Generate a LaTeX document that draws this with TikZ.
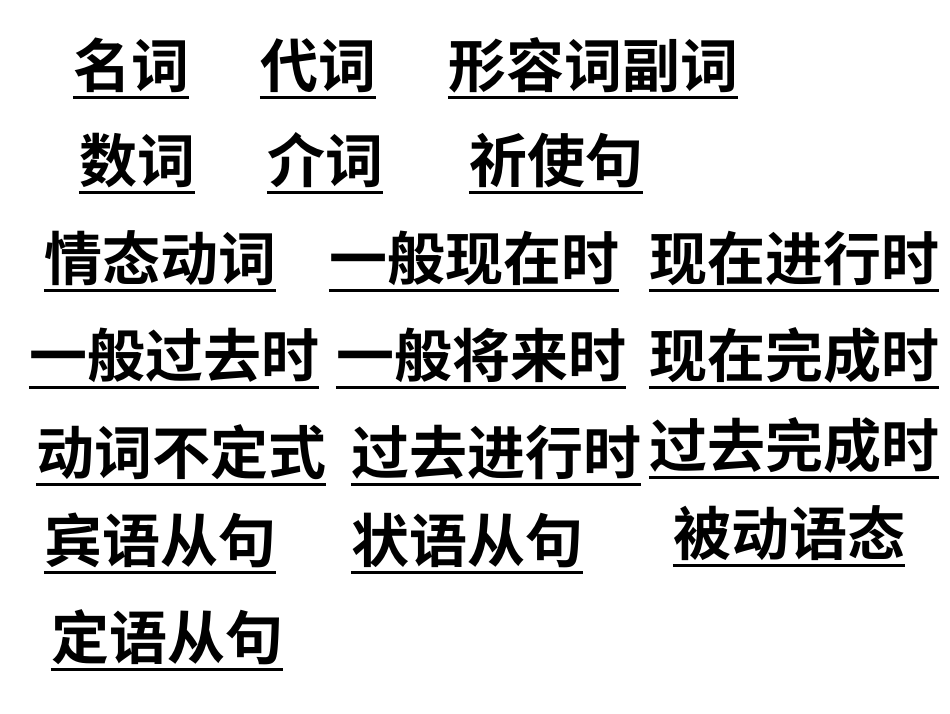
\documentclass[tikz,border=0pt]{standalone}
\usepackage{fontspec}
\setmainfont{Noto Sans CJK SC}[BoldFont=* Bold]
\begin{document}
\begin{tikzpicture}[x=1pt,y=-1pt,
  word/.style={inner sep=0pt,text height=52pt,text depth=7pt,font=\fontsize{58}{62}\selectfont\bfseries}]
\useasboundingbox (0,0) rectangle (950,713);
\foreach \n/\x/\y/\t in {a/131/65/名词, b/318/65/代词, c/593/65/形容词副词,
  d/137/160/数词, e/325/160/介词, f/556/160/祈使句,
  g/160/258/情态动词, h/474/258/一般现在时, i/794/258/现在进行时,
  j/174/355/一般过去时, k/481/355/一般将来时, l/794/355/现在完成时,
  m/181/452/动词不定式, n/496/452/过去进行时, o/794/445/过去完成时,
  p/160/540/宾语从句, q/467/540/状语从句, r/789/533/被动语态,
  s/167/637/定语从句}{
  \node[word] (\n) at (\x,\y) {\t};
  \draw[line width=3pt] ([yshift=-3pt]\n.south west) -- ([yshift=-3pt]\n.south east);
}
\end{tikzpicture}
\end{document}
